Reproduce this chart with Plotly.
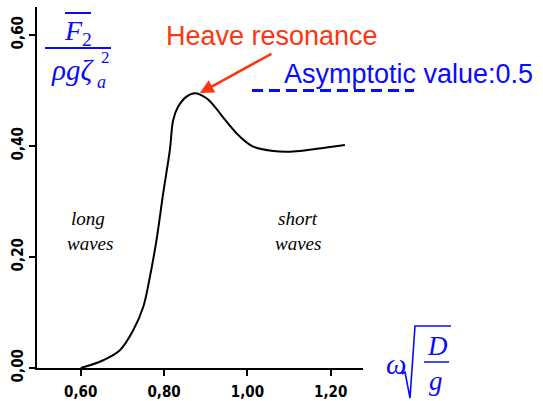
import plotly.graph_objects as go

# Mean second-order vertical force on a floating body vs. non-dimensional frequency
omega_nd = [0.600, 0.654, 0.694, 0.726, 0.750, 0.766, 0.782, 0.798, 0.814, 0.822, 0.834,
            0.854, 0.874, 0.902, 0.918, 0.950, 0.982, 1.014, 1.062, 1.110, 1.166, 1.234]
force_nd = [0.000, 0.014, 0.032, 0.068, 0.110, 0.164, 0.231, 0.315, 0.393, 0.447, 0.471,
            0.489, 0.495, 0.486, 0.474, 0.444, 0.417, 0.399, 0.391, 0.390, 0.395, 0.402]

x_ticks = [0.60, 0.80, 1.00, 1.20]
y_ticks = [0.00, 0.20, 0.40, 0.60]

peak_omega = 0.886
peak_force = 0.4955
asymptote = 0.5

BLUE = "#0a0aff"
RED = "#ff3510"
SERIF = "Liberation Serif, DejaVu Serif, serif"
SANS = "Liberation Sans, Arial, sans-serif"
NARROW = "Liberation Sans Narrow, DejaVu Sans Condensed, Arial Narrow, sans-serif"

# plot area in pixels
L, T, R, B = 37, 7, 363, 368
W, H = 543, 401


def px(x):
    return (x - L) / (R - L)


def py(y):
    return (B - y) / (B - T)


fig = go.Figure()
fig.add_trace(go.Scatter(
    x=omega_nd, y=force_nd, mode="lines",
    line=dict(color="black", width=2, shape="spline", smoothing=1.0),
    hoverinfo="skip", showlegend=False,
))

annotations = []


def label(text, x, y, size, color, family, xanchor="center"):
    annotations.append(dict(
        text=text, x=px(x), y=py(y), xref="paper", yref="paper",
        xanchor=xanchor, yanchor="middle", showarrow=False,
        font=dict(size=size, color=color, family=family),
    ))


# region labels
label("<i>long</i>", 88, 219, 19, "black", SERIF)
label("<i>waves</i>", 90, 244, 19, "black", SERIF)
label("<i>short</i>", 298, 219, 19, "black", SERIF)
label("<i>waves</i>", 298, 244, 19, "black", SERIF)

# callouts
label("Heave resonance", 272, 36, 27, RED, SANS)
label("Asymptotic value:0.5", 282, 74, 27, BLUE, SANS, xanchor="left")

annotations.append(dict(
    x=peak_omega, y=peak_force, xref="x", yref="y", text="",
    showarrow=True, ax=73, ay=-40, axref="pixel", ayref="pixel",
    arrowhead=2, arrowsize=1.1, arrowwidth=2.5, arrowcolor=RED, standoff=0,
))

# y-axis quantity: mean vertical force / (rho g zeta_a^2)
label("<i>F</i><sub>2</sub>", 78, 33, 28, BLUE, SERIF)
label("<i>ρgζ</i>", 72, 70, 29, BLUE, SERIF)
label("2", 105, 58, 17, BLUE, SERIF)
label("<i>a</i>", 101, 82, 18, BLUE, SERIF)

# x-axis quantity: omega * sqrt(D / g)
label("<i>ω</i>", 396, 364, 29, BLUE, SERIF)
label("<i>D</i>", 437, 346, 27, BLUE, SERIF)
label("<i>g</i>", 436, 381, 27, BLUE, SERIF)

shapes = [
    # overbar on F
    dict(type="line", xref="paper", yref="paper", x0=px(65), x1=px(91), y0=py(13), y1=py(13),
         line=dict(color=BLUE, width=2)),
    # fraction bars
    dict(type="line", xref="paper", yref="paper", x0=px(45), x1=px(111), y0=py(48), y1=py(48),
         line=dict(color=BLUE, width=2)),
    dict(type="line", xref="paper", yref="paper", x0=px(424), x1=px(449), y0=py(362), y1=py(362),
         line=dict(color=BLUE, width=1.5)),
    # radical sign
    dict(type="path", xref="paper", yref="paper",
         path=(f"M {px(402)} {py(374)} L {px(405)} {py(372)} L {px(410)} {py(398)} "
               f"L {px(415)} {py(326)} L {px(451)} {py(326)}"),
         line=dict(color=BLUE, width=1.6)),
    # asymptote marker
    dict(type="line", xref="paper", yref="y", x0=px(252), x1=px(414), y0=asymptote, y1=asymptote,
         line=dict(color=BLUE, width=3, dash="11px,6px")),
]

x0 = x_ticks[0] - (80.7 - L) / 416.7
x1 = x_ticks[0] + (R - 80.7) / 416.7
y1 = (B - T) / 555.0

fig.update_layout(
    width=W, height=H,
    margin=dict(l=L, r=W - R, t=T, b=H - B, pad=0),
    paper_bgcolor="white", plot_bgcolor="white",
    separators=",.",
    annotations=annotations, shapes=shapes,
    showlegend=False,
    xaxis=dict(
        range=[x0, x1], tickvals=x_ticks, tickformat=".2f",
        showgrid=False, zeroline=False, showline=True, linecolor="black", linewidth=2,
        ticks="outside", ticklen=6, tickwidth=2, tickcolor="black",
        tickfont=dict(size=15, family=NARROW, color="black", weight="bold"),
        ticklabelstandoff=3, automargin=False, fixedrange=True,
    ),
    yaxis=dict(
        range=[0, y1], tickvals=y_ticks, tickformat=".2f", tickangle=-90,
        showgrid=False, zeroline=False, showline=True, linecolor="black", linewidth=2,
        ticks="outside", ticklen=6, tickwidth=2, tickcolor="black",
        tickfont=dict(size=15, family=NARROW, color="black", weight="bold"),
        automargin=False, fixedrange=True,
    ),
)

fig.write_html("out.html", config={"displayModeBar": False})
